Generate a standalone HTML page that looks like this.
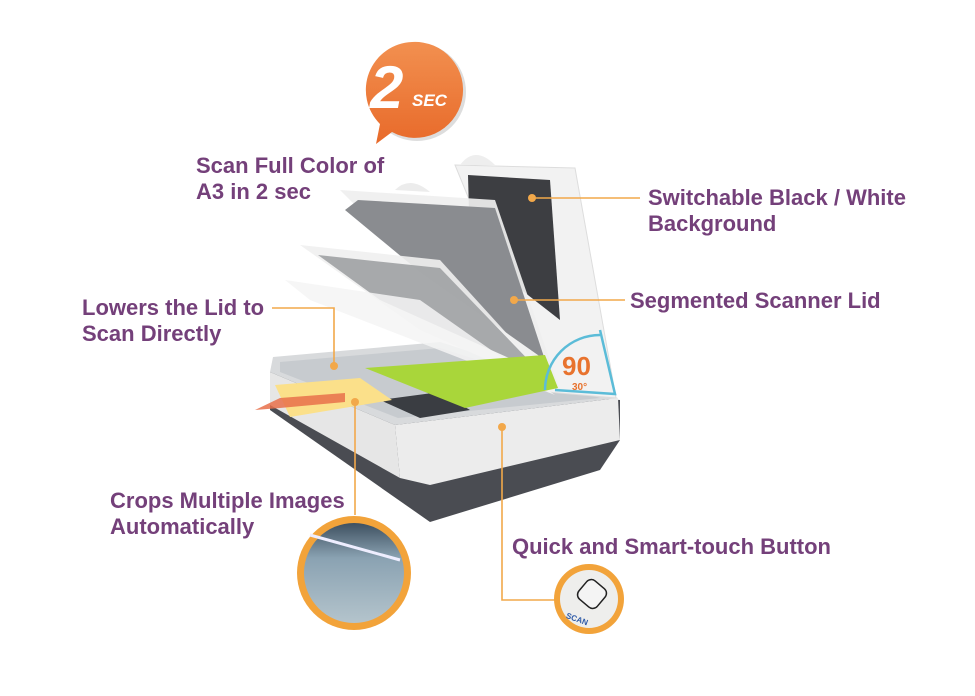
<!DOCTYPE html>
<html><head><meta charset="utf-8"><style>
html,body{margin:0;padding:0;background:#fff;width:975px;height:696px;overflow:hidden}
svg{display:block}
text{font-family:"Liberation Sans",Arial,sans-serif;font-weight:bold}
.l{fill:#74407a;font-size:22px}
</style></head><body>
<svg width="975" height="696" viewBox="0 0 975 696" xmlns="http://www.w3.org/2000/svg">
<defs>
<linearGradient id="og" x1="0" y1="0" x2="0" y2="1"><stop offset="0" stop-color="#f29050"/><stop offset="1" stop-color="#e86a2a"/></linearGradient>
<linearGradient id="cg" x1="0" y1="0" x2="0" y2="1"><stop offset="0" stop-color="#3e5060"/><stop offset="0.35" stop-color="#8aa2b2"/><stop offset="1" stop-color="#b4c4cc"/></linearGradient>
</defs>
<!-- bubble -->
<circle cx="417" cy="92" r="49" fill="#ddd"/>
<path d="M412 42 A48 48 0 1 1 392 132 L376 144 L380 124 A48 48 0 0 1 412 42Z" fill="url(#og)"/>
<text x="370" y="108" fill="#fff" font-size="60" font-style="italic">2</text>
<text x="412" y="106" fill="#fff" font-size="17" font-style="italic">SEC</text>

<!-- scanner base -->
<polygon points="270,410 430,522 600,470 620,440 620,400 270,372" fill="#4a4c52"/>
<polygon points="270,372 395,425 400,478 270,405" fill="#e6e6e6"/>
<polygon points="395,425 618,398 620,440 430,485 400,478" fill="#ececec"/>
<polygon points="273,357 440,342 618,398 395,425 270,372" fill="#d8dadc"/>
<polygon points="280,362 440,348 600,398 398,418 280,372" fill="#c7cbcf"/>
<polygon points="380,400 440,392 470,410 420,418" fill="#3a3d42"/>
<!-- lids -->
<polygon points="455,165 575,168 616,398 548,392" fill="#f2f2f2" stroke="#ddd"/>
<path d="M460 165 Q475 145 495 165Z" fill="#eee"/>
<polygon points="468,175 550,180 560,320 470,250" fill="#3d3e42"/>
<polygon points="340,190 495,200 560,390 420,270" fill="#efefef" opacity="0.92"/>
<path d="M395 190 Q410 175 430 192Z" fill="#ececec"/>
<polygon points="358,200 495,208 545,360 420,272 345,210" fill="#8a8c90"/>
<polygon points="300,245 440,260 560,392 420,330" fill="#f0f0f0" opacity="0.9"/>
<polygon points="318,255 440,268 540,372 380,300" fill="#9a9c9f" opacity="0.85"/>
<polygon points="285,280 420,300 555,395 310,300" fill="#f4f4f4" opacity="0.85"/>
<!-- green & yellow paper -->
<polygon points="365,368 545,355 558,388 465,408" fill="#a9d63a"/>
<polygon points="275,385 360,378 392,400 290,417" fill="#fbe08a"/>
<polygon points="255,410 280,398 345,393 345,402 280,408" fill="#e8704a" opacity="0.85"/>
<!-- angle -->
<path d="M555 390 L615 394 L600 330" fill="none" stroke="#5bbcd8" stroke-width="2.5"/>
<path d="M545 390 A55 55 0 0 1 600 335" fill="none" stroke="#5bbcd8" stroke-width="2.5"/>
<text x="562" y="375" fill="#e8732e" font-size="26">90</text>
<text x="572" y="390" fill="#e8732e" font-size="10">30°</text>

<!-- connectors -->
<g stroke="#f2a84a" stroke-width="1.6" fill="none">
<path d="M530 198 H640"/><path d="M512 300 H625"/>
<path d="M272 308 H334 V364"/>
<path d="M355 400 V515"/>
<path d="M502 427 V600 H555"/>
</g>
<g fill="#f2a84a"><circle cx="532" cy="198" r="4"/><circle cx="514" cy="300" r="4"/><circle cx="334" cy="366" r="4"/><circle cx="355" cy="402" r="4"/><circle cx="502" cy="427" r="4"/></g>

<!-- crop circle -->
<circle cx="354" cy="573" r="57" fill="#f2a33a"/>
<circle cx="354" cy="573" r="50" fill="url(#cg)"/>
<path d="M310 535 L400 560" stroke="#eef" stroke-width="3"/>
<!-- scan button circle -->
<circle cx="589" cy="599" r="35" fill="#f2a33a"/>
<circle cx="589" cy="599" r="29" fill="#eeeeec"/>
<rect x="580" y="582" width="24" height="24" rx="6" fill="#f4f4f4" stroke="#222" stroke-width="1.5" transform="rotate(40 592 594)"/>
<text x="566" y="621" fill="#2e5aa8" font-size="8" transform="rotate(20 575 618)">SCAN</text>

<!-- labels -->
<text class="l" x="196" y="173">Scan Full Color of</text>
<text class="l" x="196" y="199">A3 in 2 sec</text>
<text class="l" x="648" y="205">Switchable Black / White</text>
<text class="l" x="648" y="231">Background</text>
<text class="l" x="630" y="308">Segmented Scanner Lid</text>
<text class="l" x="82" y="315">Lowers the Lid to</text>
<text class="l" x="82" y="341">Scan Directly</text>
<text class="l" x="110" y="508">Crops Multiple Images</text>
<text class="l" x="110" y="534">Automatically</text>
<text class="l" x="512" y="554">Quick and Smart-touch Button</text>
</svg>
</body></html>
